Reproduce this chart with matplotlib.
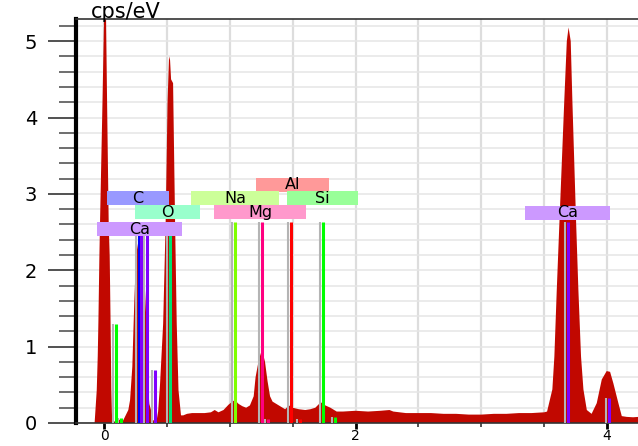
import numpy as np
import matplotlib.pyplot as plt
from matplotlib.patches import Rectangle
from matplotlib.ticker import MultipleLocator

# spectrum (keV, cps/eV)
spec_keV = [-0.223, -0.075, -0.058, -0.050, -0.045, -0.037, -0.032, -0.012, 0.000, 0.008,
            0.016, 0.024, 0.037, 0.045, 0.052, 0.058, 0.064,
            0.08, 0.10, 0.12, 0.135, 0.151, 0.193, 0.207, 0.225, 0.233, 0.241, 0.255, 0.28,
            0.31, 0.335, 0.35, 0.36, 0.372, 0.385, 0.40, 0.42,
            0.43, 0.445, 0.47, 0.49, 0.505, 0.517, 0.525, 0.533, 0.549, 0.565, 0.578, 0.592, 0.612,
            0.63, 0.66, 0.70, 0.75, 0.80, 0.85, 0.88, 0.91, 0.95, 0.99, 1.02, 1.04, 1.07, 1.10,
            1.13, 1.16, 1.19, 1.205, 1.23, 1.25, 1.265, 1.28, 1.30, 1.32, 1.34, 1.37, 1.40, 1.44,
            1.47, 1.50, 1.55, 1.60, 1.64, 1.68, 1.71, 1.735, 1.76, 1.80, 1.85, 1.90, 2.0, 2.1,
            2.2, 2.27, 2.3, 2.4, 2.5, 2.6, 2.7, 2.8, 2.9, 3.0, 3.1, 3.2, 3.3, 3.4, 3.5,
            3.523, 3.565, 3.581, 3.600, 3.621, 3.660, 3.680, 3.694, 3.711, 3.724, 3.754, 3.772,
            3.793, 3.812, 3.839, 3.877, 3.918, 3.958, 3.997, 4.024, 4.050, 4.090, 4.117, 4.157,
            4.207, 4.25]
spec_cps = [0.0, 0.0, 0.43, 0.88, 1.31, 2.18, 2.62, 4.23, 5.3, 6.2,
            5.3, 4.23, 2.62, 2.18, 1.31, 0.43, 0.05,
            0.02, 0.02, 0.04, 0.05, 0.03, 0.17, 0.3, 0.74, 1.18, 1.61, 2.2, 2.45,
            2.3, 1.4, 0.5, 0.25, 0.18, 0.04, 0.03, 0.05,
            0.15, 0.5, 1.3, 2.62, 4.2, 4.8, 4.75, 4.5, 4.45, 2.62, 1.3, 0.43, 0.1,
            0.1, 0.12, 0.13, 0.13, 0.13, 0.14, 0.17, 0.14, 0.17, 0.24, 0.28, 0.30, 0.25, 0.22,
            0.2, 0.23, 0.35, 0.6, 0.82, 0.93, 0.9, 0.8, 0.55, 0.35, 0.28, 0.25, 0.22, 0.18,
            0.23, 0.2, 0.18, 0.17, 0.18, 0.2, 0.25, 0.27, 0.23, 0.2, 0.15, 0.15, 0.16, 0.15,
            0.16, 0.17, 0.15, 0.13, 0.13, 0.13, 0.12, 0.12, 0.11, 0.11, 0.12, 0.12, 0.13, 0.13, 0.14,
            0.15, 0.44, 0.87, 1.74, 2.62, 4.23, 5.0, 5.18, 5.0, 4.23, 2.62, 1.74,
            0.87, 0.44, 0.17, 0.12, 0.26, 0.57, 0.68, 0.67, 0.52, 0.26, 0.09, 0.08,
            0.075, 0.08]

# element marker lines
line_keV = [0.092, 0.135, 0.277, 0.297, 0.338, 0.403, 0.525, 1.041, 1.254, 1.302,
            1.486, 1.557, 1.740, 1.836, 3.690, 4.012]
line_cps = [1.29, 0.06, 2.63, 2.63, 2.63, 0.69, 2.63, 2.63, 2.63, 0.05,
            2.63, 0.05, 2.63, 0.08, 2.63, 0.33]
line_elem = ['Si', 'Si', 'C', 'Ca', 'Ca', 'Ca', 'O', 'Na', 'Mg', 'Mg',
             'Al', 'Al', 'Si', 'Si', 'Ca', 'Ca']

# element labels
label_text = ['Al', 'C', 'Na', 'Si', 'O', 'Mg', 'Ca', 'Ca']
label_keV = [1.50, 0.271, 1.041, 1.737, 0.505, 1.24, 0.282, 3.683]
label_cps = [3.12, 2.945, 2.945, 2.945, 2.76, 2.76, 2.535, 2.75]

line_color = {'C': '#0000ff', 'O': '#00e070', 'Na': '#80ff00', 'Mg': '#ff0080',
              'Al': '#ff0000', 'Si': '#00ff00', 'Ca': '#8000ff'}
box_color = {'C': '#9999ff', 'O': '#99ffcc', 'Na': '#ccff99', 'Mg': '#ff99cc',
             'Al': '#ff9999', 'Si': '#99ff99', 'Ca': '#cc99ff'}

fig = plt.figure(figsize=(6.38, 4.46), dpi=100)
ax = fig.add_axes([76 / 638, 23 / 446, 1 - 76 / 638, 404 / 446])
ax.set_xlim(-0.223, 4.246)
ax.set_ylim(0, 5.29)

ax.fill_between(spec_keV, spec_cps, color='#c10800', lw=0, zorder=2)

shadow = 0.022
for e, c, el in zip(line_keV, line_cps, line_elem):
    ax.vlines(e - shadow, 0, c, color='#b4b4b4', lw=1.5, zorder=3)
    ax.vlines(e, 0, c, color=line_color[el], lw=2.2, zorder=4)

# label boxes
texts = []
for t, e, c in zip(label_text, label_keV, label_cps):
    texts.append(ax.text(e, c, t, fontsize=11.5, ha='center', va='center', zorder=6))
renderer = fig.canvas.get_renderer()
px_per_keV = ax.get_window_extent(renderer).width / (4.246 + 0.223)
box_h = 0.184
for txt, t, e, c in zip(texts, label_text, label_keV, label_cps):
    tw = txt.get_window_extent(renderer).width
    w = (tw * 2.3 + 37) / px_per_keV
    ax.add_patch(Rectangle((e - w / 2, c - box_h / 2), w, box_h,
                           facecolor=box_color[t], edgecolor='none', zorder=5))

# grid and ticks
ax.xaxis.set_major_locator(MultipleLocator(2))
ax.xaxis.set_minor_locator(MultipleLocator(0.5))
ax.yaxis.set_major_locator(MultipleLocator(1))
ax.yaxis.set_minor_locator(MultipleLocator(0.2))
ax.set_axisbelow(True)
ax.grid(True, axis='x', which='both', color='#dddddd', lw=1.6)
ax.grid(True, axis='y', which='both', color='#e6e6e6', lw=1.1)

ax.tick_params(axis='y', which='major', length=20, width=1.2, color='#333333',
               pad=8, labelsize=14)
ax.tick_params(axis='y', which='minor', length=12, width=1.2, color='#555555')
ax.tick_params(axis='x', which='major', length=4.5, width=2, color='black',
               pad=0, labelsize=10)
ax.tick_params(axis='x', which='minor', length=3, width=1.2, color='#333333')

ax.spines['right'].set_visible(False)
ax.spines['left'].set_color('black')
ax.spines['left'].set_linewidth(3)
for s in ('top', 'bottom'):
    ax.spines[s].set_color('#333333')
    ax.spines[s].set_linewidth(1.2)

fig.text(91 / 638, 1 - 12 / 446, 'cps/eV', fontsize=15, ha='left', va='center')

fig.savefig('out.png', dpi=100)
